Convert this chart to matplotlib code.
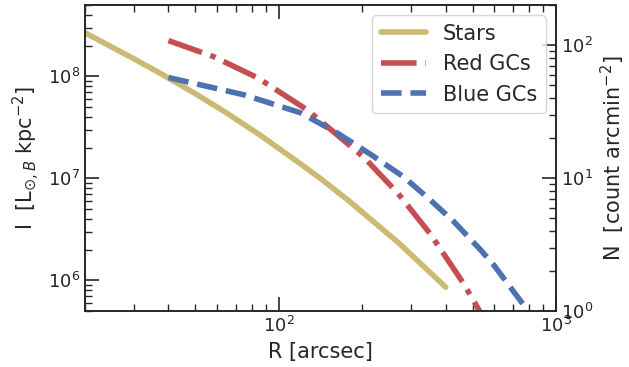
import matplotlib
matplotlib.use("Agg")
import matplotlib.pyplot as plt
from matplotlib.ticker import NullFormatter

# surface brightness of the stars (left axis)
r_stars = [20, 30, 38, 50, 65, 86, 120, 142, 180, 270, 400]
i_stars = [2.67e8, 1.486e8, 1.042e8, 6.76e7, 4.35e7, 2.63e7, 1.38e7, 9.86e6, 5.94e6, 2.34e6, 8.57e5]

# GC number density profiles (right axis)
r_red = [40, 58, 84, 127, 203, 270, 352, 464, 530]
n_red = [108, 82, 56.6, 32.4, 14.3, 7.6, 3.8, 1.61, 1.0]

r_blue = [40, 75, 120, 162, 214, 282, 352, 428, 533, 594, 785]
n_blue = [57.0, 42.2, 30.9, 21.9, 15.1, 10.2, 6.84, 4.70, 2.90, 2.24, 1.03]

dark = "#262626"
plt.rcParams.update({
    "font.family": "DejaVu Sans",
    "text.color": dark,
    "axes.labelcolor": dark,
    "axes.edgecolor": dark,
    "axes.linewidth": 1.2,
    "xtick.color": dark,
    "ytick.color": dark,
    "xtick.direction": "in",
    "ytick.direction": "in",
    "xtick.major.size": 10,
    "ytick.major.size": 10,
    "xtick.minor.size": 5,
    "ytick.minor.size": 5,
    "xtick.major.width": 1.2,
    "ytick.major.width": 1.2,
    "xtick.minor.width": 1.0,
    "ytick.minor.width": 1.0,
    "xtick.labelsize": 13,
    "ytick.labelsize": 13,
    "axes.labelsize": 15,
})

fig = plt.figure(figsize=(6.29, 3.67), dpi=100)
ax = fig.add_axes([85/629, 1-311/367, (556-85)/629, (311-5)/367])
ax2 = ax.twinx()

l1, = ax.plot(r_stars, i_stars, color="#CCB974", lw=4, solid_capstyle="round", label="Stars")
l2, = ax2.plot(r_red, n_red, color="#C44E52", lw=4, ls="-.", label="Red GCs")
l3, = ax2.plot(r_blue, n_blue, color="#4C72B0", lw=4, ls="--", label="Blue GCs")

ax.set_xscale("log")
ax.set_yscale("log")
ax2.set_yscale("log")
ax.set_xlim(20, 1000)
ax.set_ylim(5e5, 5e8)
ax2.set_ylim(1, 200)

ax.tick_params(which="both", top=True)
for a in (ax, ax2):
    a.yaxis.set_minor_formatter(NullFormatter())
ax.xaxis.set_minor_formatter(NullFormatter())

ax.set_xlabel("R [arcsec]")
ax.set_ylabel(r"I  [L$_{\odot,B}$ kpc$^{-2}$]")
ax2.set_ylabel(r"N  [count arcmin$^{-2}$]")

ax2.legend(handles=[l1, l2, l3], loc="upper right", fontsize=15,
           handlelength=2.2, edgecolor="0.8", framealpha=0.8)

fig.savefig("out.png", dpi=100)
